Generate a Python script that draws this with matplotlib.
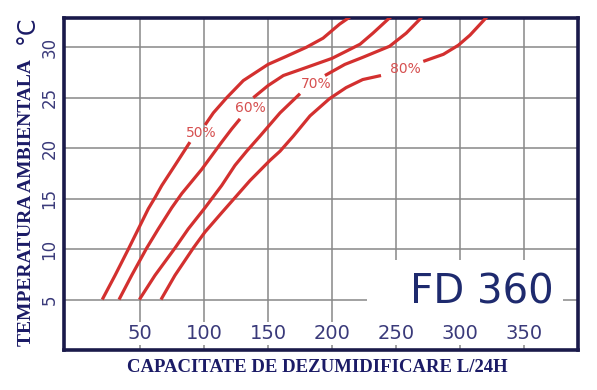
import matplotlib
matplotlib.use('Agg')
from matplotlib import pyplot as plt
from matplotlib.patches import Rectangle

# curve data (capacity L/24h, temperature C)
# each curve is split in two where its label sits
hum_50_x1 = [20.5, 30.5, 40.9, 48.7, 56.5, 61.7, 67, 77.3, 89]
hum_50_y1 = [5, 7.4, 10, 12, 14, 15.1, 16.3, 18.3, 20.6]
hum_50_x2 = [100.8, 107.3, 117.7, 130.7, 150, 164.3, 180, 193, 206, 214]
hum_50_y2 = [22.3, 23.5, 25, 26.7, 28.3, 29.1, 30, 30.9, 32.3, 33]

hum_60_x1 = [33.6, 43.5, 55.2, 64.3, 74.8, 82.6, 98.2, 113.8, 121.6, 128.1]
hum_60_y1 = [5, 7.4, 10.1, 12, 14.1, 15.5, 17.9, 20.6, 21.9, 22.9]
hum_60_x2 = [138.5, 150, 162, 180, 200, 211, 221.9, 232, 244, 246]
hum_60_y2 = [25, 26.2, 27.2, 28, 28.9, 29.6, 30.3, 31.4, 32.8, 33]

hum_70_x1 = [49.5, 61.7, 77.3, 87.7, 100.8, 113.8, 124.2, 133.3, 143.75, 159.4, 175]
hum_70_y1 = [5, 7.4, 10.1, 12, 14.1, 16.3, 18.3, 19.7, 21.2, 23.5, 25.4]
hum_70_x2 = [194.5, 210, 224, 245, 258, 268.8, 270]
hum_70_y2 = [27.2, 28.3, 29, 30.1, 31.4, 32.8, 33]

hum_80_x1 = [66.4, 77.3, 91.6, 100.8, 113.8, 124.2, 136, 151.6, 159.4, 169.8, 182.8, 198, 211, 224, 238.3]
hum_80_y1 = [5, 7.4, 10.1, 11.7, 13.6, 15.1, 16.8, 18.8, 19.7, 21.2, 23.2, 24.9, 26, 26.8, 27.2]
hum_80_x2 = [271.3, 287, 298.7, 307.8, 319.5, 321]
hum_80_y2 = [28.6, 29.3, 30.2, 31.2, 32.8, 33]

curve_labels = ['50%', '60%', '70%', '80%']
label_x = [98, 136, 187.5, 257]
label_y = [21.5, 24.0, 26.4, 27.8]

x_ticks = [50, 100, 150, 200, 250, 300, 350]
y_ticks = [5, 10, 15, 20, 25, 30]

navy = '#1b1b66'
red = '#d3302f'

fig = plt.figure(figsize=(5.97, 3.90), dpi=100)
ax = fig.add_axes([64 / 597, 1 - 350 / 390, 514 / 597, 332 / 390])
ax.set_xlim(-9.4, 392.2)
ax.set_ylim(0, 32.9)

for s in ax.spines.values():
    s.set_color('#1a1a4a')
    s.set_linewidth(2.6)

ax.set_xticks(x_ticks)
ax.set_yticks(y_ticks)
ax.grid(True, color='#888888', linewidth=1.1, zorder=0)
ax.set_axisbelow(True)
ax.tick_params(axis='x', length=0, labelbottom=False)
ax.tick_params(axis='y', length=0, labelsize=12, labelcolor='#3a3a7a', pad=4)
for lab in ax.get_yticklabels():
    lab.set_rotation(90)
    lab.set_va('center')

# white area under the model name and the x tick labels
ax.add_patch(Rectangle((227, 1.3), 153.5, 7.65, facecolor='white', edgecolor='none', zorder=1))
for xv in x_ticks:
    ax.text(xv, 1.6, str(xv), ha='center', va='center', fontsize=14, color='#3a3a7a', zorder=2,
            bbox=dict(facecolor='white', edgecolor='none', pad=1.5))

ax.text(373, 5.7, 'FD 360', ha='right', va='center', fontsize=29, color='#1e2a6e', zorder=3)

for xs, ys in [(hum_50_x1, hum_50_y1), (hum_50_x2, hum_50_y2),
               (hum_60_x1, hum_60_y1), (hum_60_x2, hum_60_y2),
               (hum_70_x1, hum_70_y1), (hum_70_x2, hum_70_y2),
               (hum_80_x1, hum_80_y1), (hum_80_x2, hum_80_y2)]:
    ax.plot(xs, ys, color=red, linewidth=2.3, solid_capstyle='butt', solid_joinstyle='round',
            zorder=4)

for t, lx, ly in zip(curve_labels, label_x, label_y):
    ax.text(lx, ly, t, ha='center', va='center', fontsize=10, color='#d65050', zorder=5)

fig.text(317.5 / 597, 1 - 367.5 / 390, 'CAPACITATE DE DEZUMIDIFICARE L/24H', ha='center', va='center',
         family='Liberation Serif', weight='bold', fontsize=13.5, color=navy)
fig.text(27 / 597, 1 - 202.5 / 390, 'TEMPERATURA AMBIENTALA', ha='center', va='center', rotation=90,
         family='Liberation Serif', weight='bold', fontsize=14, color=navy)
fig.text(27 / 597, 1 - 30 / 390, '°C', ha='center', va='center', rotation=90,
         fontsize=17, color=navy)

fig.savefig('out.png', dpi=100)
